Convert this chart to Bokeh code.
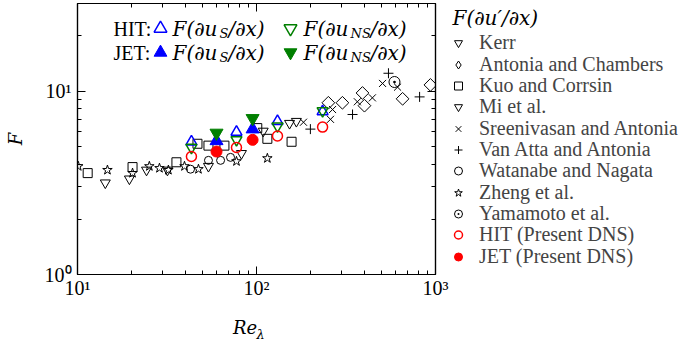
import json
import numpy as np
from bokeh.plotting import figure
from bokeh.layouts import row
from bokeh.models import (Range1d, LogAxis, FixedTicker, Legend, LegendItem, Label,
                          CustomJSTickFormatter)
from bokeh.embed import file_html
from bokeh.resources import INLINE

# ---- literature data: Re_lambda vs flatness F(du'/dx) ----
kerr_re = [14.3, 19.5, 24.3, 31.8]
kerr_f = [3.16, 3.32, 3.71, 3.71]

antonia_re = [252, 302, 391, 401, 655, 937]
antonia_f = [8.63, 8.63, 9.76, 8.32, 9.07, 10.8]

kuo_re = [11.4, 20.3, 35.7, 46.8, 53.9, 66.2, 101, 115, 157]
kuo_f = [3.57, 3.85, 4.09, 5.16, 5.04, 5.04, 6.28, 5.49, 5.29]

mi_re = [53.9, 82.4, 109, 153, 167]
mi_f = [3.89, 4.57, 6.05, 6.67, 6.84]

sreeni_re = [183, 259, 266, 366, 444, 506, 614]
sreeni_f = [6.76, 7.01, 7.93, 8.74, 9.18, 11.0, 10.5]

vanatta_re = [200, 344, 546, 815]
vanatta_f = [6.20, 7.45, 12.5, 9.29]

watanabe_re = [42.8, 53.9, 63.0, 71.6]
watanabe_f = [3.75, 4.19, 4.19, 4.35]

zheng_re = [10.1, 14.7, 20.3, 25.2, 28.7, 32.2, 39.6, 47.4, 77.3, 115]
zheng_f = [3.89, 3.71, 3.57, 3.89, 3.80, 3.71, 3.89, 3.75, 4.14, 4.30]

yamamoto_re = [590]
yamamoto_f = [11.2]

# ---- present DNS ----
hit_re = [43.3, 77.3, 131, 234]
hit_f = [4.40, 4.92, 5.69, 6.36]
hit_fs = [5.29, 5.98, 6.84, 7.73]
hit_fns = [4.92, 5.42, 6.44, 7.80]

jet_re = [59.8, 95.1]
jet_f = [4.68, 5.42]
jet_fs = [5.35, 6.20]
jet_fns = [5.91, 7.10]

x_major = [10, 100, 1000]
x_minor = [m * d for d in (10, 100) for m in range(2, 10)]
y_major = [1, 10]
y_minor = [m * d for d in (1, 10) for m in range(2, 10)]
x_tick_text = {10: "10¹", 100: "10²", 1000: "10³"}
y_tick_text = {1: "10⁰", 10: "10¹"}

legend_title = "F(∂u′/∂x)"
legend_labels = ["Kerr", "Antonia and Chambers", "Kuo and Corrsin", "Mi et al.",
                 "Sreenivasan and Antonia", "Van Atta and Antonia", "Watanabe and Nagata",
                 "Zheng et al.", "Yamamoto et al.", "HIT (Present DNS)", "JET (Present DNS)"]

SERIF = "Liberation Serif"
MATH = "DejaVu Serif"
NBSP = "\u00a0"
BLUE = "#0000ff"
GREEN = "#007f00"
RED = "#ff0000"

p = figure(width=449, height=344, x_axis_type="log", y_axis_type="log",
           x_range=Range1d(10, 1000), y_range=Range1d(1, 30),
           output_backend="svg", toolbar_location=None,
           min_border_left=77, min_border_right=14,
           min_border_top=3, min_border_bottom=65)
p.grid.visible = False
p.outline_line_color = "black"
p.outline_line_width = 1.2
p.background_fill_color = "white"
p.border_fill_color = "white"

p.add_layout(LogAxis(), "above")
p.add_layout(LogAxis(), "right")


def power_labels(mapping):
    table = json.dumps({str(k): v for k, v in mapping.items()}, ensure_ascii=False)
    return CustomJSTickFormatter(code=f"const t = {table}; return t[String(Math.round(tick))] || '';")


def style_axis(ax, ticker, labels=None):
    ax.ticker = ticker
    ax.axis_line_color = "black"
    ax.axis_line_width = 1.2
    ax.major_tick_line_color = "black"
    ax.minor_tick_line_color = "black"
    ax.major_tick_in = 8
    ax.major_tick_out = 0
    ax.minor_tick_in = 4
    ax.minor_tick_out = 0
    if labels is None:
        ax.formatter = CustomJSTickFormatter(code="return '';")
        ax.major_label_text_font_size = "1px"
        ax.major_label_standoff = 0
    else:
        ax.formatter = power_labels(labels)
        ax.major_label_text_font = SERIF
        ax.major_label_text_font_size = "20px"
        ax.major_label_text_color = "black"


def style_title(ax, text, size, standoff):
    ax.axis_label = text
    ax.axis_label_text_font = MATH
    ax.axis_label_text_font_style = "italic"
    ax.axis_label_text_font_size = size
    ax.axis_label_text_color = "black"
    ax.axis_label_standoff = standoff


xtick = FixedTicker(ticks=x_major, minor_ticks=x_minor)
ytick = FixedTicker(ticks=y_major, minor_ticks=y_minor)
style_axis(p.below[0], xtick, x_tick_text)
p.below[0].major_label_standoff = 2
style_axis(p.left[0], ytick, y_tick_text)
p.left[0].major_label_standoff = 6
style_axis(p.above[0], xtick)
style_axis(p.right[0], ytick)

# axis titles: F on the left, Re with a lowered lambda underneath
style_title(p.left[0], "F", "18px", 16)
style_title(p.below[0], "Re" + NBSP * 4, "18px", 15)
sub_axis = LogAxis()
style_axis(sub_axis, FixedTicker(ticks=x_major, minor_ticks=[]))
sub_axis.axis_line_color = None
sub_axis.major_tick_line_color = None
sub_axis.minor_tick_line_color = None
style_title(sub_axis, NBSP * 2 + "λ", "13px", -14)
p.add_layout(sub_axis, "below")

# marker styles shared by the plot and the key panel
lit = dict(line_color="black", fill_color=None, line_width=1)
styles = [
    dict(marker="inverted_triangle", size=10, **lit),                 # Kerr
    dict(marker="square", angle=np.pi / 4, size=9, **lit),            # Antonia & Chambers
    dict(marker="square", size=9, **lit),                             # Kuo & Corrsin
    dict(marker="inverted_triangle", size=10, **lit),                 # Mi et al.
    dict(marker="x", size=10, **lit),                                 # Sreenivasan & Antonia
    dict(marker="cross", size=10, **lit),                             # Van Atta & Antonia
    dict(marker="circle", size=8, **lit),                             # Watanabe & Nagata
    dict(marker="star", size=10, **lit),                              # Zheng et al.
    dict(marker="circle_dot", size=11, **lit),                        # Yamamoto et al.
    dict(marker="circle", size=10, line_color=RED, fill_color=None, line_width=1.5),  # HIT
    dict(marker="circle", size=11, line_color=RED, fill_color=RED),   # JET
]
series = [(kerr_re, kerr_f), (antonia_re, antonia_f), (kuo_re, kuo_f), (mi_re, mi_f),
          (sreeni_re, sreeni_f), (vanatta_re, vanatta_f), (watanabe_re, watanabe_f),
          (zheng_re, zheng_f), (yamamoto_re, yamamoto_f),
          (hit_re, hit_f), (jet_re, jet_f)]

for (xs, ys), st in zip(series[:9], styles[:9]):
    p.scatter(xs, ys, **st)

# present DNS
r_hit_s = p.scatter(hit_re, hit_fs, marker="triangle", size=11, line_color=BLUE,
                    fill_color=None, line_width=1.5)
r_hit_ns = p.scatter(hit_re, hit_fns, marker="inverted_triangle", size=11, line_color=GREEN,
                     fill_color=None, line_width=1.5)
p.scatter(hit_re, hit_f, **styles[9])
r_jet_s = p.scatter(jet_re, jet_fs, marker="triangle", size=13, line_color=BLUE, fill_color=BLUE)
r_jet_ns = p.scatter(jet_re, jet_fns, marker="inverted_triangle", size=13, line_color=GREEN,
                     fill_color=GREEN)
p.scatter(jet_re, jet_f, **styles[10])


def single_key(fig, renderer, label, vx, vy, gw, gh, font_size="8px", standoff=5):
    lg = Legend(items=[LegendItem(label=label, renderers=[renderer])], location=(vx, vy))
    lg.glyph_width = gw
    lg.glyph_height = gh
    lg.label_height = gh
    lg.label_text_font = SERIF
    lg.label_text_font_size = font_size
    lg.label_standoff = standoff
    lg.label_width = 4
    lg.padding = 0
    lg.margin = 0
    lg.border_line_color = None
    lg.background_fill_alpha = 0
    fig.add_layout(lg)


# inner key markers
single_key(p, r_hit_s, " ", 67, 230, 32, 32)
single_key(p, r_hit_ns, " ", 197, 230, 32, 32)
single_key(p, r_jet_s, " ", 67, 206, 32, 32)
single_key(p, r_jet_ns, " ", 197, 206, 32, 32)


def text(fig, x, y, s, font=SERIF, size="20px", style="normal"):
    fig.add_layout(Label(x=x, y=y, x_units="screen", y_units="screen", text=s,
                         text_font=font, text_font_size=size, text_font_style=style,
                         text_align="left", text_baseline="middle", text_color="black"))


# inner key texts: frame-relative screen positions
for row_y, tag in ((246, "HIT:"), (222, "JET:")):
    text(p, 36, row_y, tag)
    for x0, x_sub, x_end, sub in ((95, 142, 151, "S"), (226, 273, 293, "NS")):
        text(p, x0, row_y, "F(∂u", font=MATH, size="20px", style="italic")
        text(p, x_sub, row_y - 5, sub, font=MATH, size="13px", style="italic")
        text(p, x_end, row_y, "/∂x)", font=MATH, size="20px", style="italic")

# key panel to the right of the axes (its ranges keep the series themselves out of view)
k = figure(width=243, height=344, x_range=Range1d(0, 1), y_range=Range1d(0, 1),
           x_axis_location=None, y_axis_location=None,
           output_backend="svg", toolbar_location=None, min_border=0)
k.grid.visible = False
k.outline_line_color = None
k.background_fill_color = "white"
k.border_fill_color = "white"
key_style = [dict(st) for st in styles]
key_style[1] = dict(marker="diamond", size=9, **lit)
key_renderers = [k.scatter(xs, ys, **st) for (xs, ys), st in zip(series, key_style)]

text(k, 3, 257, legend_title, font=MATH, size="20px", style="italic")
ROW0, PITCH, ROW_H = 48, 21.3, 23
for i, (lab, r) in enumerate(zip(legend_labels, key_renderers)):
    centre = ROW0 + PITCH * i
    single_key(k, r, lab, -1, round(279 - centre - ROW_H / 2), 20, 21,
               font_size="20px", standoff=11)

open("out.html", "w").write(file_html(row(p, k), INLINE))
